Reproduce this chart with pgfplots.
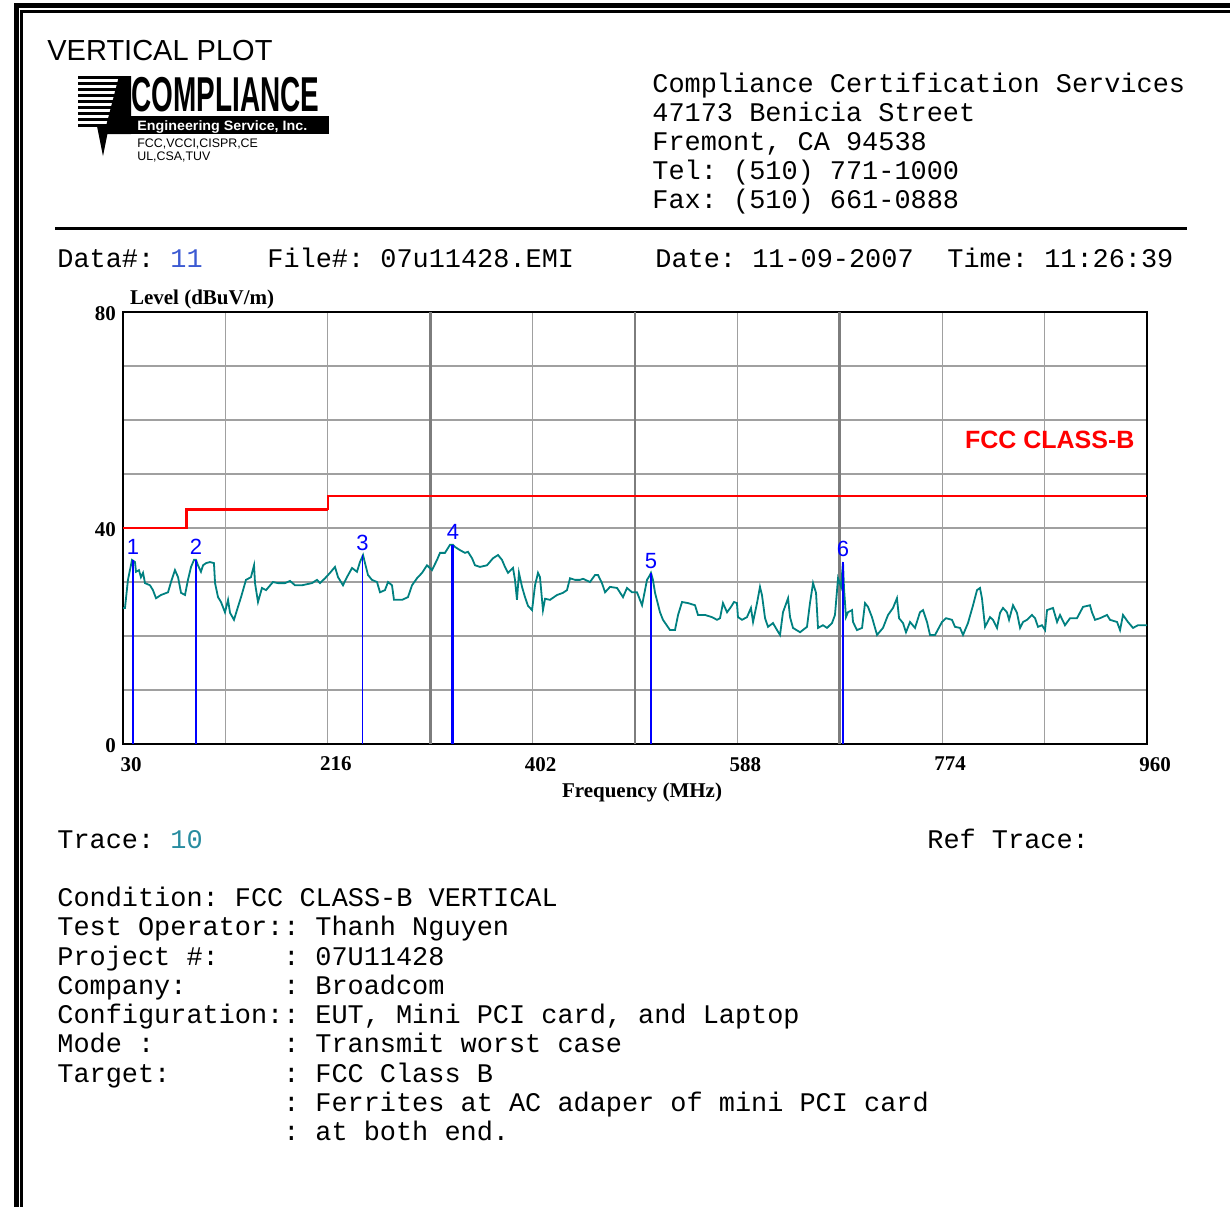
\documentclass[border=0pt]{standalone}
\usepackage{pgfplots}
\usepackage{pgfplotstable}
\pgfplotsset{compat=1.18}
\usepackage{fontspec}
\setmainfont{Liberation Serif}
\setsansfont{Liberation Sans}
\setmonofont{Liberation Mono}
\definecolor{trace}{RGB}{0,128,128}
\definecolor{gridgray}{RGB}{160,160,160}
\definecolor{gridgrayd}{RGB}{125,125,125}
\definecolor{mblue}{RGB}{0,0,255}
\definecolor{lred}{RGB}{255,0,0}
\definecolor{numblue}{RGB}{60,90,210}
\definecolor{numteal}{RGB}{40,140,160}
\newcommand\mono{\ttfamily\fontsize{13.45}{16}\selectfont}

\pgfplotstableread{
f db
30.0 25.2
31.8 25.2
34.5 30.4
38.2 34.1
40.9 33.7
41.8 31.9
44.5 32.2
46.3 30.9
48.2 31.7
50.0 29.8
54.5 29.4
57.2 28.5
60.0 27.0
64.5 27.6
70.9 28.1
73.6 30.0
77.2 32.2
80.0 30.9
82.7 28.0
86.3 27.6
89.0 30.4
91.8 32.8
94.5 34.1
96.3 34.1
98.1 33.1
100.8 31.9
102.7 33.1
105.4 33.5
109.0 33.7
112.6 33.5
113.6 29.8
116.3 27.2
119.0 26.3
122.6 24.4
125.4 26.7
127.2 24.3
130.8 23.0
133.5 24.8
137.2 27.2
141.7 30.4
146.2 30.9
149.0 33.1
149.9 29.8
152.6 26.3
156.2 28.9
159.9 28.5
166.2 30.0
170.8 29.8
177.1 29.8
181.7 30.2
186.2 29.4
192.6 29.4
201.6 29.8
206.2 30.4
208.9 29.8
213.5 30.7
218.0 31.7
222.5 32.8
225.3 30.9
229.8 29.4
233.4 30.9
238.0 32.6
242.5 31.9
245.2 33.7
248.0 35.0
249.8 33.5
252.5 31.3
256.1 30.4
260.7 30.0
263.4 28.1
267.9 28.5
270.7 30.0
274.3 29.4
276.1 26.7
283.4 26.7
288.8 27.2
292.5 29.4
297.0 30.7
301.6 31.7
306.1 33.1
310.6 32.2
315.2 34.1
317.9 35.4
322.4 35.4
327.0 36.9
329.7 36.9
331.5 36.5
336.1 35.9
340.6 35.4
343.3 35.6
347.0 34.4
349.7 33.1
354.2 32.8
360.6 33.1
366.0 34.4
370.6 35.0
374.2 34.1
376.9 32.8
379.7 31.7
384.2 32.6
386.0 30.4
387.8 26.7
389.6 31.7
392.4 29.1
395.1 27.2
397.8 25.6
401.5 24.8
404.2 29.4
406.9 31.7
408.7 30.9
411.4 24.8
413.3 26.9
417.8 26.7
424.2 27.6
429.6 28.0
433.2 28.5
436.0 30.7
440.5 30.4
445.0 30.4
447.8 30.6
454.1 30.0
458.7 31.3
461.4 31.3
465.0 29.8
467.8 28.1
472.3 29.1
478.7 28.9
484.1 27.2
487.7 28.9
492.3 28.1
496.8 28.1
501.4 25.7
505.9 30.4
508.6 31.3
509.5 31.7
511.3 30.4
513.2 28.0
517.7 24.4
520.4 23.0
526.8 21.1
531.3 21.1
534.1 23.9
537.7 26.3
543.1 26.1
549.5 25.7
552.2 23.9
558.6 23.9
564.9 23.5
569.5 23.0
572.2 23.3
574.9 26.1
578.6 24.4
582.2 25.4
584.9 26.3
587.6 26.1
588.5 23.5
592.2 23.0
596.7 23.5
600.3 25.2
602.2 22.6
605.8 26.1
608.5 29.1
610.3 27.6
613.1 23.3
615.8 21.7
620.3 22.4
624.0 21.1
626.7 20.2
629.4 24.4
634.0 27.0
635.8 23.5
638.5 21.5
644.9 20.7
651.2 21.7
653.9 26.1
656.7 29.8
659.4 28.0
661.2 21.5
665.7 22.0
669.4 21.5
673.9 22.4
676.6 23.9
679.4 30.7
682.1 29.1
683.9 33.7
684.8 28.9
686.6 23.5
688.4 24.4
692.1 24.8
693.0 22.6
696.6 21.1
701.2 21.5
703.9 26.1
706.6 25.4
710.2 23.5
714.8 20.2
720.2 21.5
724.8 23.9
729.3 25.2
732.9 27.0
734.8 23.3
738.4 22.4
741.1 20.7
744.8 22.6
749.3 21.5
753.8 24.4
756.6 24.8
760.2 22.6
762.9 20.2
767.5 20.2
773.8 22.6
777.5 23.3
782.9 23.0
785.6 21.7
790.2 21.5
792.9 20.2
797.4 22.4
802.0 25.7
805.6 28.5
808.3 28.9
810.1 27.0
812.9 21.7
817.4 23.5
820.1 23.0
823.8 21.5
826.5 24.3
829.2 25.2
832.8 24.4
834.7 23.0
838.3 25.7
841.9 24.3
844.7 21.5
847.4 22.6
851.0 23.0
855.5 23.9
858.3 23.3
861.0 21.7
864.6 22.0
867.4 21.1
869.2 24.8
874.6 25.2
878.3 22.6
881.0 23.9
885.5 22.0
890.1 23.3
896.4 23.3
901.9 25.4
908.2 25.7
910.0 24.4
912.8 23.0
917.3 23.3
923.7 23.9
926.4 23.0
932.8 22.6
935.5 21.1
938.2 23.9
942.7 22.6
947.3 21.5
951.8 22.0
958.2 22.0
960.0 22.0
}\tracedata

\begin{document}
\begin{tikzpicture}
\useasboundingbox (0,0) rectangle (615pt,-603.5pt);
\begin{scope}[x=0.5pt,y=-0.5pt]
% page borders
\fill (14,3) rectangle (1230,8);
\fill (14,3) rectangle (19,1207);
\fill (20,10) rectangle (1230,12.5);
\fill (20,10) rectangle (23,1207);
% title
\node[anchor=base west, inner sep=0, font=\sffamily\fontsize{14.5}{16}\selectfont] at (47,60) {VERTICAL PLOT};
% logo
\foreach \yy in {76,82,88,94,100,106,112,118,124}{\fill (78,\yy) rectangle (120,\yy+3);}
\fill (119,76) -- (131,76) -- (131,134) -- (104,134) -- cycle;
\fill (97,126) -- (109,126) -- (103,156) -- cycle;
\fill (131,116) rectangle (329,134);
\node[anchor=south west, inner sep=0] at (131,112) {\scalebox{0.57}[1]{\sffamily\bfseries\fontsize{24.5}{25}\selectfont COMPLIANCE}};
\node[anchor=base west, inner sep=0, text=white] at (137,130) {\scalebox{1.05}[1]{\sffamily\bfseries\fontsize{6.8}{7}\selectfont Engineering Service, Inc.}};
\node[anchor=base west, inner sep=0] at (137,147) {\sffamily\fontsize{6.2}{6.5}\selectfont FCC,VCCI,CISPR,CE};
\node[anchor=base west, inner sep=0] at (137,160) {\sffamily\fontsize{6.2}{6.5}\selectfont UL,CSA,TUV};
% address
\node[anchor=base west, inner sep=0] at (652,92) {\mono Compliance Certification Services};
\node[anchor=base west, inner sep=0] at (652,121) {\mono 47173 Benicia Street};
\node[anchor=base west, inner sep=0] at (652,150) {\mono Fremont, CA 94538};
\node[anchor=base west, inner sep=0] at (652,179) {\mono Tel: (510) 771-1000};
\node[anchor=base west, inner sep=0] at (652,208) {\mono Fax: (510) 661-0888};
\fill (55,227) rectangle (1187,229.5);
% header line
\node[anchor=base west, inner sep=0] at (57,267) {\mono Data\#: \textcolor{numblue}{11}};
\node[anchor=base west, inner sep=0] at (267,267) {\mono File\#: 07u11428.EMI};
\node[anchor=base west, inner sep=0] at (655,267) {\mono Date: 11-09-2007};
\node[anchor=base west, inner sep=0] at (947,267) {\mono Time: 11:26:39};
% trace line
\node[anchor=base west, inner sep=0] at (57,848) {\mono Trace: \textcolor{numteal}{10}};
\node[anchor=base west, inner sep=0] at (927,848) {\mono Ref Trace:};
% condition block
\node[anchor=base west, inner sep=0] at (57,906) {\mono Condition: FCC CLASS-B VERTICAL};
\foreach \yy/\lab/\val in {935/{Test Operator:}/{Thanh Nguyen},965/{Project \#:}/{07U11428},994/{Company:}/{Broadcom},1023/{Configuration:}/{EUT, Mini PCI card, and Laptop},1052/{Mode :}/{Transmit worst case},1082/{Target:}/{FCC Class B},1111/{}/{Ferrites at AC adaper of mini PCI card},1140/{}/{at both end.}}{
  \node[anchor=base west, inner sep=0] at (57,\yy) {\mono \lab};
  \node[anchor=base west, inner sep=0] at (283,\yy) {\mono :};
  \node[anchor=base west, inner sep=0] at (315,\yy) {\mono \val};
}
\end{scope}

\begin{axis}[
  at={(61.5pt,-372pt)}, anchor=south west,
  scale only axis, width=512pt, height=216pt,
  xmin=30, xmax=960, ymin=0, ymax=80,
  xtick={30,123,216,402,588,774,867,960},
  xticklabels={30,,216,402,588,774,,960},
  extra x ticks={309,495,681},
  extra x tick labels={},
  extra x tick style={major grid style={draw=gridgrayd, line width=1.4pt}},
  ytick={0,10,20,30,40,50,60,70,80},
  yticklabels={0,,,,40,,,,80},
  grid=major,
  major grid style={draw=gridgray, line width=0.65pt},
  major tick length=0pt,
  axis line style={line width=1.3pt},
  /pgf/number format/assume math mode=true,
  ticklabel style={font=\rmfamily\bfseries\fontsize{10.5}{12}\selectfont},
  xticklabel style={xshift=4pt, yshift=-3pt},
  yticklabel style={yshift=-1pt},
  xlabel={Frequency (MHz)},
  ylabel={Level (dBuV/m)},
  every axis x label/.style={at={(axis description cs:0.5,0)}, anchor=north, yshift=-16pt, xshift=3.5pt, font=\rmfamily\bfseries\fontsize{10.5}{12}\selectfont},
  every axis y label/.style={at={(axis description cs:0,1)}, anchor=south west, xshift=0pt, yshift=-2pt, font=\rmfamily\bfseries\fontsize{10.5}{12}\selectfont},
  clip=true,
]
% limit line
\addplot[color=lred, line width=0.9pt] coordinates {(30,40) (88,40) (88,43.5) (216,43.5) (216,46) (960,46)};
\addplot[color=lred, line width=1.4pt] coordinates {(88,40) (88,43.5) (216,43.5)};
% trace
\addplot[draw=trace, line width=0.9pt] table[x=f, y=db] {\tracedata};
% markers
\pgfplotsset{mk/.style={ycomb, draw=mblue, nodes near coords, point meta=explicit symbolic,
  nodes near coords style={font=\sffamily\fontsize{11}{12}\selectfont, text=mblue, anchor=south, inner sep=2pt}}}
\addplot[mk, line width=1.1pt] coordinates {(39.1,34.1) [1]};
\addplot[mk, line width=1.4pt] coordinates {(96.3,34.1) [2]};
\addplot[mk, line width=0.8pt] coordinates {(247.6,35.0) [3]};
\addplot[mk, line width=1.5pt] coordinates {(329.7,36.9) [4]};
\addplot[mk, line width=0.6pt] coordinates {(509.5,31.7) [5]};
\addplot[mk, line width=1.0pt] coordinates {(683.9,33.7) [6]};
\node[anchor=east, inner sep=0, text=lred, font=\sffamily\bfseries\fontsize{12.5}{14}\selectfont] at (axis cs:949,56.3) {FCC CLASS-B};
\end{axis}
\end{tikzpicture}
\end{document}
